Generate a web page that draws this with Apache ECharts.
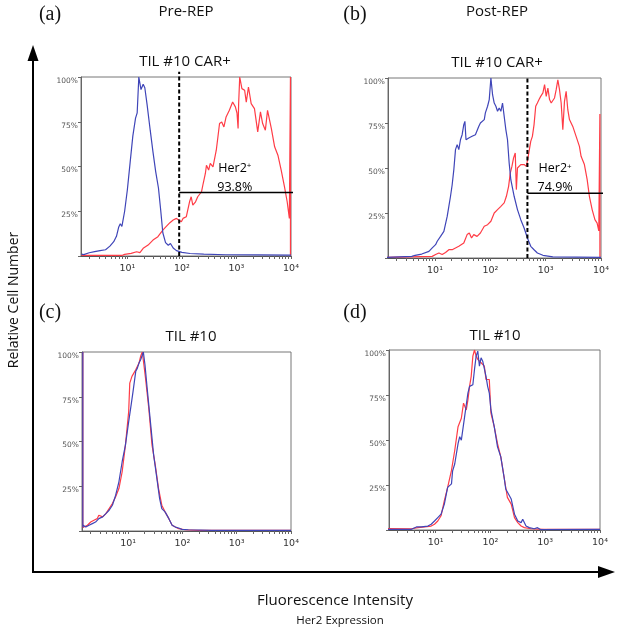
<!DOCTYPE html>
<html>
<head>
<meta charset="utf-8">
<script src="https://cdn.jsdelivr.net/npm/echarts@6/dist/echarts.min.js"></script>
<style>
html, body { margin: 0; padding: 0; background: #fff; }
#chart { width: 620px; height: 633px; }
</style>
</head>
<body>
<div id="chart"></div>
<script>
// x = log10(fluorescence intensity), y = % of max (relative cell number)
var aBlue = [[0.16,1],[0.2,0.8],[0.3,1.8],[0.4,2.4],[0.5,3],[0.6,3.5],[0.68,5.5],[0.75,8],[0.8,11],[0.84,16],[0.87,18],[0.9,16.5],[0.95,25],[1.0,37],[1.05,52],[1.1,67],[1.15,77],[1.18,80],[1.21,100],[1.25,93],[1.29,96],[1.32,94],[1.36,85],[1.42,70],[1.47,58],[1.52,47],[1.57,38],[1.61,26],[1.65,13],[1.7,7.5],[1.75,6],[1.79,7],[1.84,4.5],[1.9,3],[2.0,2],[2.15,1.4],[2.4,1],[2.8,0.7],[3.4,0.6],[4.0,0.5]];
var aRed = [[0.16,0.3],[0.9,0.3],[0.95,0.9],[1.07,1.5],[1.17,2.4],[1.23,1.9],[1.29,4.3],[1.38,6.1],[1.47,8.9],[1.56,10.8],[1.65,14.5],[1.71,16.4],[1.78,18.6],[1.84,20.1],[1.9,21],[1.93,21.9],[1.99,19.1],[2.02,21],[2.08,21.9],[2.14,30.3],[2.17,33.1],[2.2,28.4],[2.25,30.3],[2.29,33.1],[2.36,35.9],[2.39,40.5],[2.43,46.1],[2.45,50.7],[2.49,48],[2.52,51.7],[2.57,49.8],[2.6,50.7],[2.63,59.1],[2.66,66.5],[2.69,74],[2.73,74.9],[2.77,72.1],[2.81,77.7],[2.87,81.4],[2.93,86],[2.98,83.3],[3.01,79.9],[3.03,71.2],[3.04,85],[3.06,100],[3.1,93.5],[3.15,92.6],[3.18,86],[3.22,94.4],[3.27,85.1],[3.33,82.3],[3.39,69.3],[3.44,80.5],[3.48,74],[3.53,70.3],[3.57,81.4],[3.64,71.2],[3.7,61],[3.76,56.3],[3.82,48],[3.88,38.7],[3.93,30.3],[3.97,21],[3.99,100],[3.99,0]];

var bBlue = [[0.12,0.3],[0.58,0.9],[0.64,1.5],[0.76,2.2],[0.89,3.7],[0.95,5.6],[1.01,7.4],[1.04,9.3],[1.1,12],[1.16,14.8],[1.22,23.1],[1.25,28.7],[1.28,34.3],[1.31,40.7],[1.34,49.1],[1.37,60.2],[1.4,63],[1.43,60.2],[1.46,65.7],[1.49,68.5],[1.52,74.1],[1.54,75.9],[1.56,65.7],[1.61,66.7],[1.67,67.6],[1.73,68.5],[1.79,73.1],[1.82,75],[1.85,74.1],[1.89,76.9],[1.91,80.6],[1.95,84.3],[1.98,88],[2.01,100],[2.04,90.7],[2.07,86.1],[2.1,84.3],[2.13,81.5],[2.16,83.3],[2.19,81.5],[2.22,86.1],[2.25,87],[2.28,71.3],[2.31,65.7],[2.34,52.8],[2.37,43.5],[2.43,34.3],[2.49,26.9],[2.55,21.3],[2.61,16.7],[2.67,11.1],[2.73,6.5],[2.79,4.6],[2.85,2.8],[2.95,1.5],[3.13,0.6],[4.0,0.3]];
var bRed = [[0.12,0.3],[0.95,0.9],[1.01,1.9],[1.07,2.8],[1.13,1.9],[1.19,3.1],[1.25,4.6],[1.31,4.6],[1.37,5.6],[1.43,6.5],[1.52,8.3],[1.58,13],[1.62,13.9],[1.66,11.1],[1.7,13],[1.76,12],[1.82,13.9],[1.89,17.6],[1.95,18.5],[2.01,20.4],[2.07,25],[2.13,26.9],[2.19,28.7],[2.25,30.6],[2.29,34.3],[2.33,39.8],[2.36,47.2],[2.39,50.9],[2.42,55.6],[2.45,58.3],[2.47,38],[2.49,50],[2.52,49.1],[2.55,51.9],[2.58,50.9],[2.61,51.9],[2.65,50.9],[2.68,55.6],[2.73,64.8],[2.76,67.6],[2.79,74.1],[2.82,84.3],[2.85,86.1],[2.88,88],[2.91,89.8],[2.95,91.7],[2.98,96.3],[3.01,89.8],[3.04,94.4],[3.07,88],[3.1,86.1],[3.13,87],[3.16,88.9],[3.19,93.5],[3.22,99],[3.25,93.5],[3.28,86.1],[3.31,71.3],[3.34,87],[3.37,92.6],[3.4,82.4],[3.43,76.9],[3.49,73.1],[3.55,67.6],[3.61,62],[3.64,56.5],[3.67,57.4],[3.7,51.9],[3.75,43.5],[3.79,34.3],[3.84,26.9],[3.89,21.3],[3.93,19.4],[3.96,15],[3.98,80],[3.98,0]];

var cRed = [[0.165,100],[0.165,2],[0.19,2.2],[0.25,3.2],[0.31,5],[0.37,6],[0.43,6.9],[0.46,8.8],[0.53,7.9],[0.59,9.7],[0.65,12.5],[0.71,15.3],[0.77,19.1],[0.83,23.7],[0.89,33.1],[0.95,48],[1.01,66.7],[1.03,82.6],[1.07,86.4],[1.14,90.1],[1.2,93.8],[1.23,97.6],[1.26,100],[1.29,92.9],[1.32,85.4],[1.38,68.6],[1.44,48],[1.5,36.8],[1.56,23.7],[1.62,14.4],[1.68,10.7],[1.75,6.9],[1.81,3.2],[1.87,2.2],[1.93,1.3],[2.05,0.7],[2.29,0.4],[4.0,0.3]];
var cBlue = [[0.165,100],[0.165,2],[0.17,3.2],[0.22,2.2],[0.28,3.2],[0.34,4.1],[0.4,5],[0.46,6.9],[0.53,7.9],[0.59,9.7],[0.65,11.6],[0.71,14.4],[0.77,20],[0.83,27.5],[0.89,38.7],[0.95,48],[1.01,61.1],[1.06,71.4],[1.09,77.9],[1.14,89.2],[1.17,91],[1.2,93.8],[1.23,95.7],[1.26,96.6],[1.28,100],[1.31,92.9],[1.35,79.8],[1.41,61.1],[1.47,42.4],[1.53,29.3],[1.58,18.1],[1.62,12.5],[1.65,13.5],[1.68,10.7],[1.75,6.9],[1.81,3.2],[1.87,2.2],[1.93,1.7],[1.99,0.9],[2.11,0.7],[2.54,0.3],[4.0,0.3]];

var dRed = [[0.13,0.8],[0.56,0.7],[0.68,1.3],[0.8,1.7],[0.92,2.2],[0.98,3.2],[1.04,5],[1.1,7.9],[1.16,16.3],[1.22,23.7],[1.29,33.1],[1.35,44.3],[1.41,57.4],[1.47,62.1],[1.51,70.5],[1.54,71.4],[1.56,66.7],[1.59,72.3],[1.62,79.8],[1.65,85.4],[1.68,96.6],[1.71,100],[1.74,96.6],[1.77,94.8],[1.83,92.9],[1.89,91],[1.92,83.6],[1.98,83.6],[2.01,64.9],[2.07,57.4],[2.13,48],[2.19,40.6],[2.25,29.3],[2.31,18.1],[2.38,14.4],[2.44,6.9],[2.5,4.1],[2.56,2.2],[2.62,1.3],[2.74,0.7],[2.98,0.4],[4.0,0.3]];
var dBlue = [[0.13,0.3],[0.56,0.4],[0.65,1.7],[0.68,1.3],[0.74,1.7],[0.86,2.2],[0.92,3.2],[0.98,5],[1.04,6.9],[1.1,8.8],[1.16,14.4],[1.22,23.7],[1.29,25.6],[1.31,32.7],[1.35,36.8],[1.41,48],[1.44,51.8],[1.47,49.9],[1.53,63],[1.59,76.1],[1.62,79.8],[1.68,80.7],[1.71,89.2],[1.74,96.6],[1.77,99.4],[1.8,91],[1.83,95.7],[1.86,93.8],[1.89,92.9],[1.92,85.4],[1.95,79.8],[1.98,76.1],[2.01,66.7],[2.07,57.4],[2.13,46.2],[2.19,40.6],[2.25,29.3],[2.28,22.8],[2.31,21.9],[2.38,17.2],[2.44,8.8],[2.5,5],[2.56,4.1],[2.59,6],[2.62,5],[2.65,2.2],[2.71,1.3],[2.8,0.7],[2.86,1.3],[2.92,0.2],[4.0,0.3]];

// Her2+ gates (panels a, b)
var gateX = [1.95, 2.67];
var gateY = [35.5, 36];
var gatePct = ['93.8%', '74.9%'];

var xMajor = [1, 2, 3, 4];
var xMajorLabels = ['10¹', '10²', '10³', '10⁴'];
var yTickLabels = { 25: '25%', 50: '50%', 75: '75%', 100: '100%' };

var BLUE = '#3f45b8';
var RED = '#ff3c46';
var XMIN = 0.15, XMAX = 4;

var chart = echarts.init(document.getElementById('chart'));

// minor ticks of a log axis, 2..9 x 10^n
var xMinor = [];
for (var n = 0; n < 4; n++) {
    for (var k = 2; k <= 9; k++) {
        var v = n + Math.log10(k);
        if (v > XMIN) xMinor.push(v);
    }
}
var xTickVals = xMinor.concat(xMajor);

var panels = [
    { left: 81, top: 77, width: 210, height: 179, blue: aBlue, red: aRed, gate: 0, gateTop: 103, textX: 2.97, textY: [49, 38.5] },
    { left: 388, top: 78, width: 213, height: 180, blue: bBlue, red: bRed, gate: 1, gateTop: 100, textX: 3.17, textY: [49.5, 39] },
    { left: 82, top: 352, width: 209, height: 179, blue: cBlue, red: cRed },
    { left: 389, top: 350, width: 211, height: 180, blue: dBlue, red: dRed }
];

var grids = [], xAxes = [], yAxes = [], series = [];

panels.forEach(function (p, i) {
    grids.push({
        left: p.left, top: p.top, width: p.width, height: p.height,
        show: true, borderColor: '#777', borderWidth: 1, backgroundColor: '#fff'
    });
    xAxes.push({
        gridIndex: i, type: 'value', min: XMIN, max: XMAX,
        axisLine: { show: true, lineStyle: { color: '#555', width: 1 } },
        splitLine: { show: false },
        axisTick: { show: true, customValues: xTickVals, length: 3, lineStyle: { color: '#666' } },
        axisLabel: {
            customValues: xMajor, margin: 8, fontSize: 9.5, color: '#333', fontFamily: 'DejaVu Sans',
            formatter: function (v) { return xMajorLabels[xMajor.indexOf(Math.round(v))]; }
        }
    });
    yAxes.push({
        gridIndex: i, type: 'value', min: 0, max: 100, interval: 25,
        axisLine: { show: true, lineStyle: { color: '#666', width: 1 } },
        splitLine: { show: false },
        axisTick: { show: true, length: 3, lineStyle: { color: '#666' } },
        axisLabel: {
            margin: 3, fontSize: 7.5, color: '#555', fontFamily: 'DejaVu Sans', verticalAlign: 'top',
            formatter: function (v) { return yTickLabels[v] || ''; }
        }
    });

    series.push({
        type: 'line', xAxisIndex: i, yAxisIndex: i, data: p.red, showSymbol: false,
        lineStyle: { color: RED, width: 1.2 }, silent: true, z: 2
    });
    series.push({
        type: 'line', xAxisIndex: i, yAxisIndex: i, data: p.blue, showSymbol: false,
        lineStyle: { color: BLUE, width: 1.2 }, silent: true, z: 3
    });

    if (p.gate !== undefined) {
        var g = p.gate;
        series.push({
            type: 'line', xAxisIndex: i, yAxisIndex: i, showSymbol: false, clip: false, z: 5, silent: true,
            data: [[gateX[g], 0], [gateX[g], p.gateTop]],
            lineStyle: { color: '#000', width: 2, type: [4, 2.5] }
        });
        series.push({
            type: 'line', xAxisIndex: i, yAxisIndex: i, showSymbol: false, clip: false, z: 5, silent: true,
            data: [[gateX[g], gateY[g]], [4.04, gateY[g]]],
            lineStyle: { color: '#000', width: 1.5 }
        });
        series.push({
            type: 'scatter', xAxisIndex: i, yAxisIndex: i, symbolSize: 0, z: 6, silent: true,
            itemStyle: { opacity: 1 },
            data: [
                { value: [p.textX, p.textY[0]], name: 'Her2{s|+}' },
                { value: [p.textX, p.textY[1]], name: gatePct[g] }
            ],
            label: {
                show: true, position: 'inside', formatter: '{b}', opacity: 1,
                fontFamily: 'Open Sans', fontSize: 12.5, color: '#000',
                rich: { s: { fontSize: 8, verticalAlign: 'top', fontFamily: 'Open Sans', color: '#000' } }
            }
        });
    }
});

function txt(x, y, s, font, extra) {
    var el = { type: 'text', x: x, y: y, style: { text: s, font: font, fill: '#111', align: 'center', verticalAlign: 'middle' } };
    if (extra) for (var key in extra) el[key] = extra[key];
    return el;
}

var graphics = [
    // big axis arrows
    { type: 'line', shape: { x1: 33, y1: 573, x2: 33, y2: 58 }, style: { stroke: '#000', lineWidth: 2 } },
    { type: 'polygon', shape: { points: [[33, 45], [27.5, 61], [38.5, 61]] }, style: { fill: '#000' } },
    { type: 'line', shape: { x1: 32, y1: 572, x2: 600, y2: 572 }, style: { stroke: '#000', lineWidth: 2 } },
    { type: 'polygon', shape: { points: [[615, 572], [598, 566], [598, 578]] }, style: { fill: '#000' } },

    txt(50, 15, '(a)', '20px "Liberation Serif"'),
    txt(186, 12, 'Pre-REP', '15px "Open Sans"'),
    txt(355, 15, '(b)', '20px "Liberation Serif"'),
    txt(497, 12, 'Post-REP', '15px "Open Sans"'),
    txt(185, 62, 'TIL #10 CAR+', '15px "Open Sans"'),
    txt(497, 63, 'TIL #10 CAR+', '15px "Open Sans"'),
    txt(50, 313, '(c)', '20px "Liberation Serif"'),
    txt(191, 337, 'TIL #10', '15px "Open Sans"'),
    txt(355, 313, '(d)', '20px "Liberation Serif"'),
    txt(495, 336, 'TIL #10', '15px "Open Sans"'),
    txt(14, 300, 'Relative Cell Number', '14px "Open Sans"', { rotation: Math.PI / 2 }),
    txt(335, 601, 'Fluorescence Intensity', '15px "Open Sans"'),
    txt(340, 621, 'Her2 Expression', '11.5px "Open Sans"')
];

chart.setOption({
    animation: false,
    backgroundColor: '#fff',
    grid: grids,
    xAxis: xAxes,
    yAxis: yAxes,
    series: series,
    graphic: graphics
});
</script>
</body>
</html>
